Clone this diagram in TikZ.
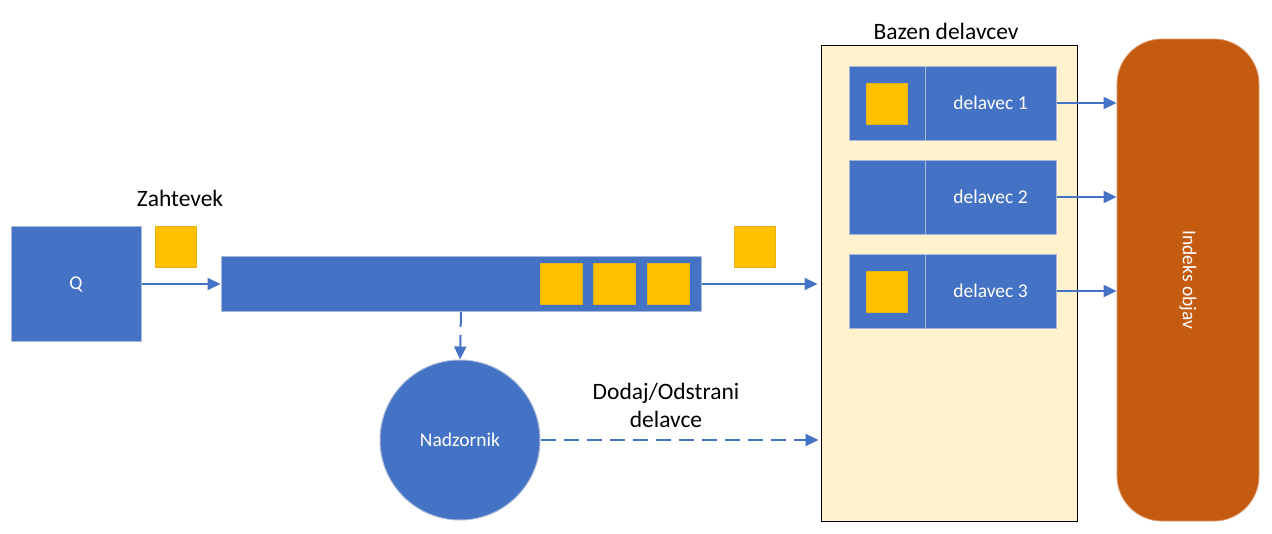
\documentclass[tikz,border=0pt]{standalone}
\usepackage{fontspec}
\setmainfont{Carlito}
\usetikzlibrary{arrows.meta,shapes.geometric}
\definecolor{qblue}{HTML}{4472C4}
\definecolor{qyellow}{HTML}{FFC000}
\definecolor{qpool}{HTML}{FFF2CC}
\definecolor{qorange}{HTML}{C55A11}
\definecolor{qedge}{HTML}{A9B8D6}
\tikzset{
  bluebox/.style={rectangle, fill=qblue, draw=qedge, line width=1pt, inner sep=0pt, text=white, font=\fontsize{19.5}{22}\selectfont},
  token/.style={rectangle, fill=qyellow, draw=qyellow!80!gray, line width=0.6pt, minimum width=41pt, minimum height=41pt, inner sep=0pt},
  lbl/.style={font=\fontsize{23.5}{28}\selectfont, text=black, align=center},
  conn/.style={draw=qblue, line width=2pt, -{Triangle[length=13pt,width=12pt]}},
  dconn/.style={conn, dash pattern=on 15pt off 8pt},
}
\begin{document}
\begin{tikzpicture}[x=1pt,y=-1pt]
\useasboundingbox (0,0) rectangle (1272,533);
% left
\node[bluebox, minimum width=130pt, minimum height=115pt] (q) at (76,284) {Q};
\node[token] (t0) at (175.5,246.5) {};
\node[lbl] (zah) at (180,198) {Zahtevek};
\node[bluebox, minimum width=480pt, minimum height=55pt] (bar) at (461,284) {};
\node[token, minimum width=42pt] (t1) at (561,284) {};
\node[token, minimum width=42pt] (t2) at (614,284) {};
\node[token, minimum width=42pt] (t3) at (668,284) {};
\node[token] (t4) at (754.5,246.5) {};
\node[bluebox, circle, minimum size=160pt] (nad) at (460,440) {Nadzornik};
\node[lbl] (dod) at (666,405) {Dodaj/Odstrani\\delavce};
% pool
\node[rectangle, fill=qpool, draw=black, line width=1pt, minimum width=256pt, minimum height=476pt, inner sep=0pt] (pool) at (949,283) {};
\node[lbl] (bazen) at (946,31) {Bazen delavcev};
\node[bluebox, minimum width=76pt, minimum height=74pt] (w1l) at (887,103) {};
\node[bluebox, minimum width=131pt, minimum height=74pt] (w1r) at (990.5,103) {delavec 1};
\node[bluebox, minimum width=76pt, minimum height=74pt] (w2l) at (887,197) {};
\node[bluebox, minimum width=131pt, minimum height=74pt] (w2r) at (990.5,197) {delavec 2};
\node[bluebox, minimum width=76pt, minimum height=74pt] (w3l) at (887,291) {};
\node[bluebox, minimum width=131pt, minimum height=74pt] (w3r) at (990.5,291) {delavec 3};
\node[token] (t5) at (886.5,104) {};
\node[token] (t6) at (886.5,291.5) {};
% index
\node[rectangle, rounded corners=45pt, fill=qorange, draw=qorange!60!white, line width=0.8pt, minimum width=142pt, minimum height=482pt, inner sep=0pt] (idx) at (1188,280) {};
\node[rotate=-90, text=white, font=\fontsize{19.5}{22}\selectfont] (idxl) at (idx.center) {Indeks objav};
% connectors
\draw[conn] (q.east) -- (bar.west);
\draw[conn, shorten >=3pt] (bar.east) -- (bar.east -| pool.west);
\draw[dconn] (bar.south) -- (nad.north);
\draw[dconn] (nad.east) -- ([xshift=-2pt]nad.east -| pool.west);
\draw[conn] (w1r.east) -- (w1r.east -| idx.west);
\draw[conn] (w2r.east) -- (w2r.east -| idx.west);
\draw[conn] (w3r.east) -- (w3r.east -| idx.west);
\end{tikzpicture}
\end{document}
